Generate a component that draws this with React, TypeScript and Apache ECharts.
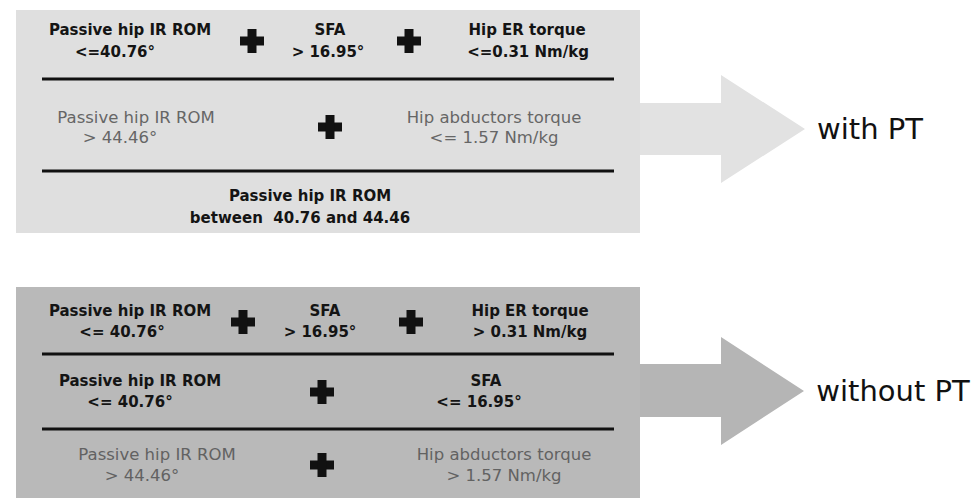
import React, { useEffect, useRef } from "react";
import * as echarts from "echarts";

// ---- Data (texts) ----
const topRow1Labels = [
  ["Passive hip IR ROM", "<=40.76°"],
  ["SFA", "> 16.95°"],
  ["Hip ER torque", "<=0.31 Nm/kg"],
];
const topRow2Labels = [
  ["Passive hip IR ROM", "> 44.46°"],
  ["Hip abductors torque", "<= 1.57 Nm/kg"],
];
const topRow3Labels = [["Passive hip IR ROM", "between  40.76 and 44.46"]];

const bottomRow1Labels = [
  ["Passive hip IR ROM", "<= 40.76°"],
  ["SFA", "> 16.95°"],
  ["Hip ER torque", "> 0.31 Nm/kg"],
];
const bottomRow2Labels = [
  ["Passive hip IR ROM", "<= 40.76°"],
  ["SFA", "<= 16.95°"],
];
const bottomRow3Labels = [
  ["Passive hip IR ROM", "> 44.46°"],
  ["Hip abductors torque", "> 1.57 Nm/kg"],
];
const outcomeLabels = ["with PT", "without PT"];

// ---- Layout (positions / styles) ----
const FONT = '"DejaVu Sans", "Open Sans", sans-serif';
const BOLD_SIZE = 15;
const REG_SIZE = 16.5;

type Cell = { cx1: number; cx2: number };

function textEl(text: string, x: number, y: number, bold: boolean, fill: string, size?: number) {
  const fs = size ?? (bold ? BOLD_SIZE : REG_SIZE);
  return {
    type: "text",
    x,
    y,
    silent: true,
    style: {
      text,
      fill,
      fontFamily: FONT,
      fontSize: fs,
      fontWeight: bold ? "bold" : "normal",
      lineHeight: Math.round(fs * 1.15),
      align: "center",
      verticalAlign: "middle",
    },
  };
}

function plusEl(cx: number, cy: number, size = 24, arm = 9) {
  return [
    { type: "rect", shape: { x: cx - size / 2, y: cy - arm / 2, width: size, height: arm }, style: { fill: "#111" } },
    { type: "rect", shape: { x: cx - arm / 2, y: cy - size / 2, width: arm, height: size }, style: { fill: "#111" } },
  ];
}

function rowEls(labels: string[][], cells: Cell[], y1: number, y2: number, bold: boolean, fill: string) {
  const out: any[] = [];
  labels.forEach((l, i) => {
    out.push(textEl(l[0], cells[i].cx1, y1, bold, fill));
    out.push(textEl(l[1], cells[i].cx2, y2, bold, fill));
  });
  return out;
}

function arrowEl(x0: number, shaftTop: number, shaftBot: number, headX: number, headTop: number, headBot: number, tipX: number, fill: string) {
  const tipY = (headTop + headBot) / 2;
  return {
    type: "polygon",
    silent: true,
    shape: {
      points: [
        [x0, shaftTop],
        [headX, shaftTop],
        [headX, headTop],
        [tipX, tipY],
        [headX, headBot],
        [headX, shaftBot],
        [x0, shaftBot],
      ],
    },
    style: { fill },
  };
}

function lineEl(y: number) {
  return { type: "line", silent: true, shape: { x1: 42, y1: y, x2: 614, y2: y }, style: { stroke: "#111", lineWidth: 3 } };
}

export default function App() {
  const ref = useRef<HTMLDivElement>(null);
  useEffect(() => {
    document.body.style.margin = "0";
    if (!ref.current) return;
    const chart = echarts.init(ref.current, undefined, { renderer: "svg" });

    const TOP_BG = "#dfdfdf";
    const BOT_BG = "#b9b9b9";
    const GRAY_TOP = "#666666";
    const GRAY_BOT = "#626262";
    const BLACK = "#141414";

    const elements: any[] = [];
    // top block
    elements.push(arrowEl(630, 103, 155, 721, 75, 183, 805, "#e2e2e2"));
    elements.push({ type: "rect", silent: true, shape: { x: 16, y: 10, width: 624, height: 223 }, style: { fill: TOP_BG } });
    elements.push(lineEl(79));
    elements.push(lineEl(171));
    elements.push(...rowEls(topRow1Labels, [
      { cx1: 130, cx2: 115 },
      { cx1: 330, cx2: 328 },
      { cx1: 527, cx2: 528 },
    ], 30, 52, true, BLACK));
    elements.push(...plusEl(252, 41), ...plusEl(409, 41));
    elements.push(...rowEls(topRow2Labels, [
      { cx1: 136, cx2: 120 },
      { cx1: 494, cx2: 494 },
    ], 117, 137, false, GRAY_TOP));
    elements.push(...plusEl(330, 127));
    elements.push(...rowEls(topRow3Labels, [{ cx1: 310, cx2: 300 }], 196, 218, true, BLACK));
    elements.push(textEl(outcomeLabels[0], 870, 129, false, "#111", 29));

    // bottom block
    elements.push(arrowEl(630, 364, 417, 721, 337, 445, 804, "#b5b5b5"));
    elements.push({ type: "rect", silent: true, shape: { x: 16, y: 287, width: 624, height: 220 }, style: { fill: BOT_BG } });
    elements.push(lineEl(354));
    elements.push(lineEl(429));
    elements.push(...rowEls(bottomRow1Labels, [
      { cx1: 130, cx2: 122 },
      { cx1: 325, cx2: 320 },
      { cx1: 530, cx2: 530 },
    ], 311, 332, true, BLACK));
    elements.push(...plusEl(243, 322), ...plusEl(411, 322));
    elements.push(...rowEls(bottomRow2Labels, [
      { cx1: 140, cx2: 130 },
      { cx1: 486, cx2: 479 },
    ], 381, 402, true, BLACK));
    elements.push(...plusEl(322, 392));
    elements.push(...rowEls(bottomRow3Labels, [
      { cx1: 157, cx2: 142 },
      { cx1: 504, cx2: 504 },
    ], 454, 475, false, GRAY_BOT));
    elements.push(...plusEl(322, 465));
    elements.push(textEl(outcomeLabels[1], 893, 391, false, "#111", 29));

    chart.setOption({
      animation: false,
      backgroundColor: "#ffffff",
      graphic: { elements },
    });
    return () => chart.dispose();
  }, []);
  return <div ref={ref} style={{ width: 976, height: 498 }} />;
}
